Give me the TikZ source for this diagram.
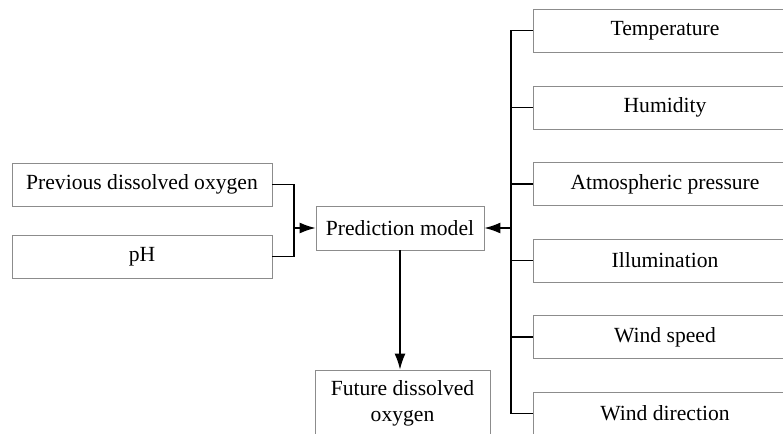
\documentclass[tikz,border=0pt]{standalone}
\usepackage{fontspec}
\setmainfont{Liberation Serif}
\usetikzlibrary{arrows.meta}
\begin{document}
\begin{tikzpicture}[x=1pt,y=-1pt,
  box/.style={draw=black!45, line width=0.9pt, fill=white, inner sep=0pt,
    font=\fontsize{21.6}{25.5}\selectfont},
  link/.style={draw=black, line width=1.3pt},
  flow/.style={link, -{Latex[length=16pt,width=11pt]}}]
\useasboundingbox (0,0) rectangle (783,433);
\clip (0,0) rectangle (783,433);
\fill[white] (0,0) rectangle (783,433);

% inputs on the left
\node[box, minimum width=260, minimum height=43] (prev) at (142,184.5) {Previous dissolved oxygen};
\node[box, minimum width=260, minimum height=43] (ph) at (142,256.5) {pH};

% model and output
\node[box, minimum width=168, minimum height=44] (pm) at (400,228) {Prediction model};
\node[box, minimum width=175, minimum height=67, align=center] (fut) at (402.5,403.5)
  {Future dissolved\\oxygen};

% meteorological inputs on the right
\foreach \nm/\yy/\txt in {temp/30.5/Temperature, hum/107.5/Humidity,
    atm/184/Atmospheric pressure, ill/260.5/Illumination,
    ws/337/Wind speed, wd/413.5/Wind direction}{
  \node[box, minimum width=264, minimum height=43] (\nm) at (665,\yy) {\txt};
}

% left collector
\coordinate (lj) at (294,228);
\draw[link] (prev.east) -| (lj) |- (ph.east);
\draw[flow] (lj) -- (pm.west);

% right collector
\coordinate (rj) at (511,228);
\draw[link] (temp.west) -| (rj) |- (wd.west);
\foreach \nm in {hum,atm,ill,ws}{
  \draw[link] (\nm.west) -- (\nm.west -| rj);
}
\draw[flow] (rj) -- (pm.east);

% model to output
\draw[flow] (pm.south) -- (pm.south |- fut.north);
\end{tikzpicture}
\end{document}
